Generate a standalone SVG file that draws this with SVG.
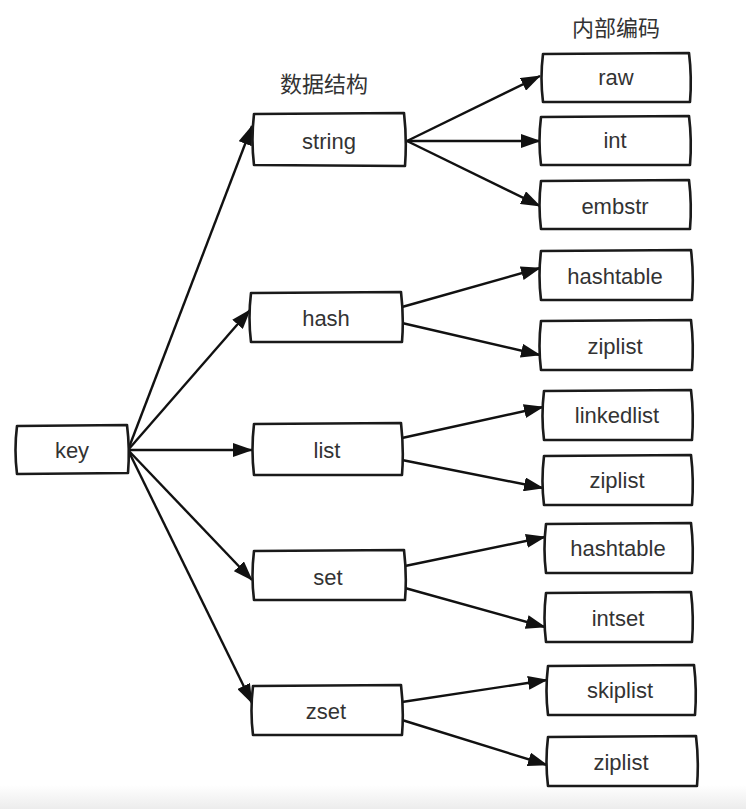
<svg xmlns="http://www.w3.org/2000/svg" width="746" height="809" viewBox="0 0 746 809">
<defs>
<marker id="ah" markerUnits="userSpaceOnUse" markerWidth="20" markerHeight="14" refX="19" refY="7" orient="auto">
<path d="M0,0 L20,7 L0,14 Z" fill="#111"/>
</marker>
<linearGradient id="bot" x1="0" y1="0" x2="0" y2="1">
<stop offset="0" stop-color="#ffffff"/>
<stop offset="1" stop-color="#ececec"/>
</linearGradient>
</defs>
<style>
.b{fill:#fff;stroke:#1a1a1a;stroke-width:2.6;stroke-linecap:round;stroke-linejoin:round}
.t{font-family:"Liberation Sans",Arial,sans-serif;font-size:22px;fill:#333;text-anchor:middle;dominant-baseline:central}
.h{font-family:"Noto Sans CJK SC","Noto Sans",sans-serif;font-size:22px;fill:#333;text-anchor:middle;dominant-baseline:central}
.c{fill:none;stroke:#111;stroke-width:2.4;marker-end:url(#ah)}
</style>
<rect width="746" height="809" fill="#fff"/>
<rect x="0" y="785" width="746" height="24" fill="url(#bot)"/>
<text class="h" x="324" y="82">数据结构</text>
<text class="h" x="616" y="26">内部编码</text>
<g id="connectors">
<line class="c" x1="128" y1="450" x2="252" y2="126"/>
<line class="c" x1="128" y1="450" x2="250" y2="310"/>
<line class="c" x1="128" y1="450" x2="252" y2="450"/>
<line class="c" x1="128" y1="450" x2="252" y2="580"/>
<line class="c" x1="128" y1="450" x2="252" y2="703"/>
<line class="c" x1="407" y1="141" x2="540" y2="76"/>
<line class="c" x1="407" y1="141" x2="540" y2="141"/>
<line class="c" x1="407" y1="141" x2="540" y2="206"/>
<line class="c" x1="402" y1="307" x2="540" y2="268"/>
<line class="c" x1="402" y1="323" x2="540" y2="355"/>
<line class="c" x1="402" y1="438" x2="543" y2="407"/>
<line class="c" x1="402" y1="460" x2="543" y2="488"/>
<line class="c" x1="405" y1="566" x2="545" y2="537"/>
<line class="c" x1="405" y1="588" x2="545" y2="627"/>
<line class="c" x1="402" y1="702" x2="547" y2="680"/>
<line class="c" x1="402" y1="720" x2="547" y2="765"/>
</g>
<g id="key"><path class="b" d="M17,426 L127,425 Q130,449 128,473 L17,474 Q14,450 17,426 Z"/><text class="t" x="72" y="450">key</text></g>
<g id="string"><path class="b" d="M254,114 L404,113 Q407,139 405,166 L254,165 Q251,140 254,114 Z"/><text class="t" x="329" y="141">string</text></g>
<g id="hash"><path class="b" d="M251,293 L401,292 Q404,317 402,342 L251,342 Q248,318 251,293 Z"/><text class="t" x="326" y="318">hash</text></g>
<g id="list"><path class="b" d="M254,424 L401,423 Q404,449 402,475 L254,475 Q251,450 254,424 Z"/><text class="t" x="327" y="450">list</text></g>
<g id="set"><path class="b" d="M254,551 L404,550 Q407,575 405,600 L254,600 Q251,576 254,551 Z"/><text class="t" x="328" y="577">set</text></g>
<g id="zset"><path class="b" d="M253,686 L401,685 Q404,710 402,735 L253,735 Q250,711 253,686 Z"/><text class="t" x="326" y="711">zset</text></g>
<g id="raw"><path class="b" d="M543,54 L689,53 Q692,77 690,102 L543,102 Q540,78 543,54 Z"/><text class="t" x="616" y="77">raw</text></g>
<g id="int"><path class="b" d="M541,117 L689,116 Q692,140 690,165 L541,165 Q538,141 541,117 Z"/><text class="t" x="615" y="140">int</text></g>
<g id="embstr"><path class="b" d="M541,181 L689,180 Q692,204 690,229 L541,229 Q538,205 541,181 Z"/><text class="t" x="615" y="206">embstr</text></g>
<g id="hashtable1"><path class="b" d="M541,251 L691,250 Q694,275 692,300 L541,300 Q538,276 541,251 Z"/><text class="t" x="615" y="276">hashtable</text></g>
<g id="ziplist1"><path class="b" d="M541,321 L691,320 Q694,345 692,370 L541,370 Q538,346 541,321 Z"/><text class="t" x="615" y="346">ziplist</text></g>
<g id="linkedlist"><path class="b" d="M544,391 L691,390 Q694,415 692,440 L544,440 Q541,416 544,391 Z"/><text class="t" x="617" y="415">linkedlist</text></g>
<g id="ziplist2"><path class="b" d="M544,456 L691,455 Q694,480 692,505 L544,505 Q541,481 544,456 Z"/><text class="t" x="617" y="480">ziplist</text></g>
<g id="hashtable2"><path class="b" d="M546,524 L691,523 Q694,548 692,573 L546,573 Q543,549 546,524 Z"/><text class="t" x="618" y="548">hashtable</text></g>
<g id="intset"><path class="b" d="M546,593 L691,592 Q694,617 692,642 L546,642 Q543,618 546,593 Z"/><text class="t" x="618" y="618">intset</text></g>
<g id="skiplist"><path class="b" d="M548,666 L694,665 Q697,690 695,715 L548,715 Q545,691 548,666 Z"/><text class="t" x="620" y="690">skiplist</text></g>
<g id="ziplist3"><path class="b" d="M548,737 L696,736 Q699,761 697,786 L548,786 Q545,762 548,737 Z"/><text class="t" x="621" y="762">ziplist</text></g>
</svg>
